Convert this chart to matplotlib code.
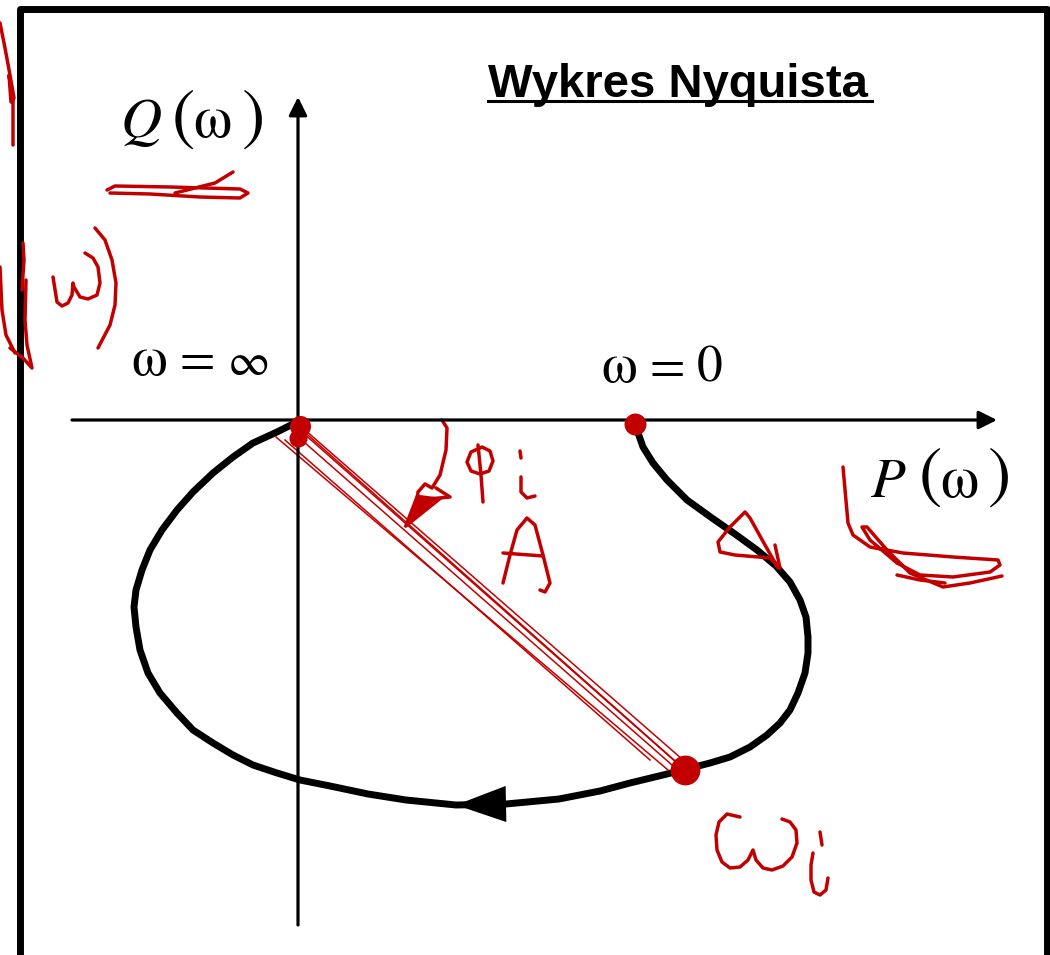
import matplotlib.pyplot as plt

# Nyquist curve, from omega = 0 (on the P axis) round to omega = inf (origin)
P_curve = [337, 339, 345, 355, 369, 389, 414, 437, 459, 478, 492, 502, 508, 510,
           510, 507, 500, 492, 482, 469, 452, 432, 412, 389, 365, 332, 302, 261,
           208, 158, 108, 70, 32, 2, -21, -45, -65, -85, -105, -121, -138, -150,
           -158, -162, -164, -162, -156, -148, -136, -121, -105, -85, -65, -45,
           -21, -1]
Q_curve = [0, -10, -27, -43, -60, -80, -98, -114, -130, -146, -162, -180, -197,
           -217, -233, -253, -273, -290, -303, -315, -327, -337, -343, -349, -355,
           -363, -371, -379, -384, -385, -380, -374, -366, -360, -353, -345, -335,
           -323, -310, -293, -273, -253, -230, -207, -187, -170, -150, -130, -110,
           -90, -72, -53, -37, -23, -12, -2]
arrow_idx = 29  # direction arrow on the lower branch

# axes extent
P_axis = (-226, 699)
Q_axis = (-505, 323)

# red hand notes
origin_dots = [(2, -6), (0, -18)]
w0_dot = (337, -4)
wi_dot = (387, -350)
A_lines = [((2, -8), (385, -348)), ((-2, -15), (382, -352)), ((-22, -17), (370, -350)),
           ((7, -10), (392, -346)), ((-13, -20), (352, -340)), ((4, -12), (388, -351))]

phi_arrow = [(144, 0), (149, -8), (148, -30), (142, -55), (134, -68), (127, -64),
             (120, -72), (119, -80), (152, -77), (138, -68)]
phi_head = [(119, -76), (142, -79), (107, -107)]
phi_ring = [(182, -28), (173, -32), (169, -42), (173, -51), (182, -54), (191, -51),
            (195, -41), (192, -31), (184, -27)]
phi_stem = [(180, -25), (183, -55), (185, -82)]
phi_i = [(223, -57), (223, -72), (229, -78), (237, -76)]
phi_dot = [(222, -31), (223, -38)]
letter_A = [(205, -163), (212, -135), (219, -110), (229, -98), (237, -105),
            (245, -135), (252, -163), (247, -172), (242, -170)]
letter_A_bar = [(205, -133), (245, -136)]
omega_i = [(442, -397), (429, -394), (421, -402), (418, -415), (419, -430), (424, -442),
           (432, -448), (442, -447), (450, -440), (455, -430), (458, -440), (465, -448),
           (474, -450), (485, -446), (494, -437), (499, -423), (498, -410), (492, -402),
           (484, -399)]
omega_i_stem = [(515, -433), (513, -445), (513, -460), (516, -472), (522, -475),
                (528, -470), (530, -458)]
omega_i_dot = [(522, -412), (524, -425)]
curve_tri = [(477, -125), (482, -148), (472, -138), (437, -135), (422, -132), (420, -122),
             (432, -107), (447, -92), (452, -98), (467, -125), (480, -148)]
Q_scribble = [(-191, 230), (-183, 234), (-128, 233), (-58, 231), (-50, 227), (-58, 222),
              (-98, 223), (-148, 226), (-188, 227)]
Q_tail = [(-123, 227), (-83, 237), (-65, 248)]
P_scribble = [(545, -47), (550, -103), (555, -115), (572, -127), (605, -133), (655, -137),
              (700, -140), (702, -145), (692, -152), (655, -157), (622, -155), (599, -143),
              (572, -120), (564, -107), (569, -107), (589, -130), (612, -153), (645, -167),
              (672, -163), (704, -156)]
P_scribble2 = [(599, -155), (622, -160), (647, -163)]
edge_top = [(-298, 397), (-293, 372), (-288, 345), (-284, 322), (-287, 318),
            (-289, 345), (-285, 320), (-285, 275)]
edge_paren = [(-298, 153), (-296, 110), (-292, 85), (-283, 67)]
edge_j = [(-275, 177), (-274, 160), (-276, 130)]
edge_j2 = [(-272, 140), (-273, 100), (-271, 75), (-266, 52), (-275, 62), (-288, 72)]
edge_omega = [(-245, 143), (-241, 118), (-236, 114), (-230, 117), (-226, 125), (-225, 137),
              (-224, 133), (-218, 123), (-210, 121), (-201, 125), (-198, 137), (-200, 153),
              (-205, 162), (-213, 167)]
edge_rparen = [(-203, 192), (-193, 180), (-186, 160), (-182, 137), (-183, 115),
               (-188, 95), (-200, 72)]

RED = '#c30000'
SERIF = 'STIXGeneral'

fig = plt.figure(figsize=(10.5, 9.55), dpi=100)
ax = fig.add_axes([0, 0, 1, 1])
ax.set_xlim(-298, 752)
ax.set_ylim(-535, 420)
ax.axis('off')

# page frame
ax.plot([-278, -278, 749, 749], [-600, 410.5, 410.5, -600], color='black', lw=5,
        solid_joinstyle='round')

# coordinate axes with arrows
arr = dict(arrowstyle='-|>,head_length=1.1,head_width=0.55', color='black', lw=2.3,
           shrinkA=0, shrinkB=0)
ax.annotate('', xy=(P_axis[1], 0), xytext=(P_axis[0], 0), arrowprops=arr)
ax.annotate('', xy=(0, Q_axis[1]), xytext=(0, Q_axis[0]), arrowprops=arr)

# Nyquist curve
ax.plot(P_curve, Q_curve, color='black', lw=5, solid_capstyle='round',
        solid_joinstyle='round')
ax.annotate('', xy=(P_curve[arrow_idx], Q_curve[arrow_idx]),
            xytext=(P_curve[arrow_idx - 1], Q_curve[arrow_idx - 1]),
            arrowprops=dict(arrowstyle='-|>,head_length=3.6,head_width=1.3',
                            color='black', lw=0, shrinkA=0, shrinkB=0))

# title
ax.text(190, 323, 'Wykres Nyquista', fontsize=34, fontweight='bold',
        family='Liberation Sans', ha='left', va='baseline')
ax.plot([190, 574], [318.5, 318.5], color='black', lw=2.2)


def axis_label(x_letter, x_lp, x_w, x_rp, base, mid, letter):
    ax.text(x_letter, base, letter, family=SERIF, style='italic', fontsize=41,
            ha='left', va='baseline')
    ax.text(x_lp, mid, '(', family=SERIF, fontsize=50, ha='left', va='center')
    ax.text(x_w, base, 'ω', family=SERIF, fontsize=44, ha='left', va='baseline')
    ax.text(x_rp, mid, ')', family=SERIF, fontsize=50, ha='left', va='center')


axis_label(-177, -126, -105, -56, 283, 300, 'Q')
axis_label(573, 621, 642, 690, -77, -58, 'P')

# frequency marks
for xs, base, end, end_size in [((-167, -119, -70), 45, '∞', 33),
                                ((303, 351, 399), 38, '0', 37)]:
    ax.text(xs[0], base, 'ω', family=SERIF, fontsize=41, ha='left', va='baseline')
    ax.text(xs[1], base, '=', family=SERIF, fontsize=37, ha='left', va='baseline')
    ax.text(xs[2], base, end, family=SERIF, fontsize=end_size, ha='left', va='baseline')

# handwritten notes
for a, b in A_lines:
    ax.plot([a[0], b[0]], [a[1], b[1]], color=RED, lw=1.1)

strokes = [phi_arrow, phi_ring, phi_stem, phi_i, phi_dot, letter_A, letter_A_bar,
           omega_i, omega_i_stem, omega_i_dot, curve_tri, Q_scribble, Q_tail,
           P_scribble, P_scribble2, edge_top, edge_paren, edge_j, edge_j2,
           edge_omega, edge_rparen]
for s in strokes:
    xs, ys = zip(*s)
    ax.plot(xs, ys, color=RED, lw=2.5, solid_capstyle='round', solid_joinstyle='round')
ax.fill(*zip(*phi_head), color=RED, lw=2)

for (px, py), size in [(origin_dots[0], 230), (origin_dots[1], 170),
                       (w0_dot, 250), (wi_dot, 460)]:
    ax.scatter(px, py, s=size, color=RED, zorder=5, lw=0)

fig.savefig('out.png', dpi=100)
